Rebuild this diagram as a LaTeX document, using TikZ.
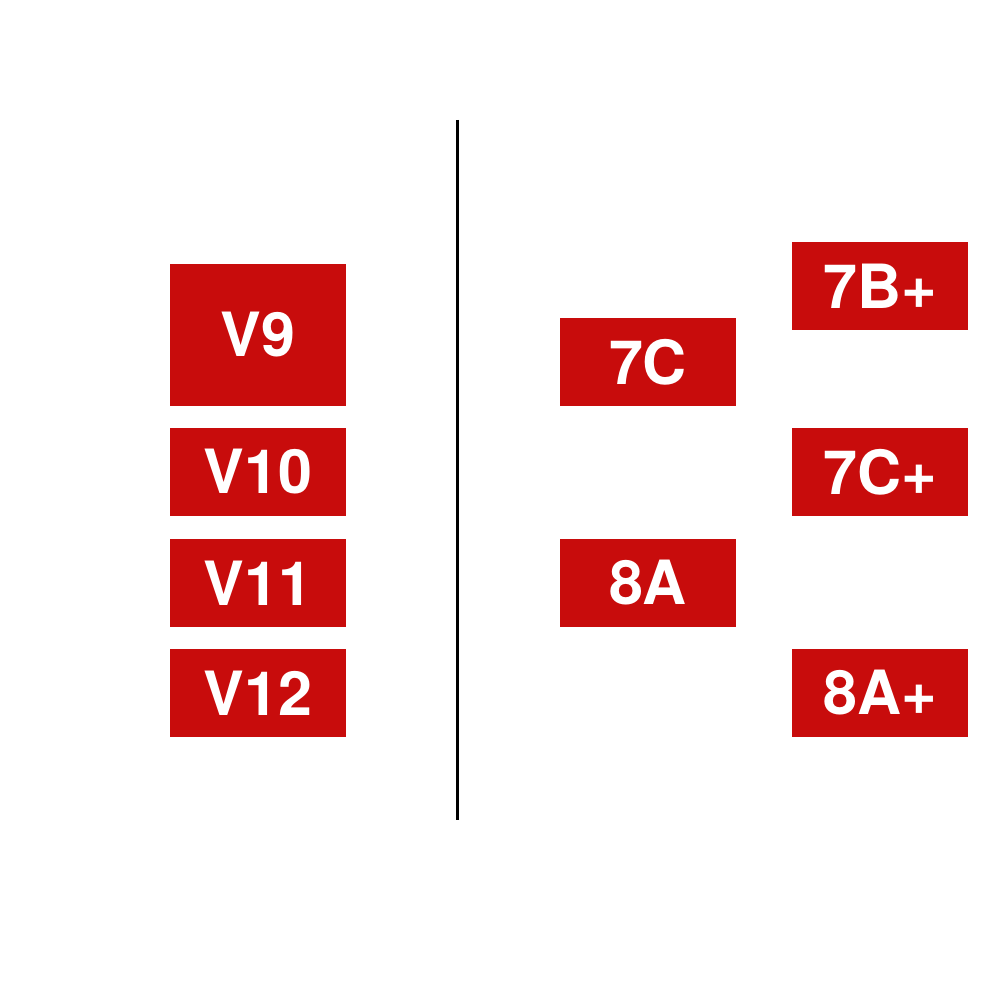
\documentclass[tikz,border=0pt]{standalone}
\usepackage{fontspec}
\setmainfont{TeX Gyre Heros}
\definecolor{boxred}{HTML}{C80C0C}
\begin{document}
\begin{tikzpicture}[x=1pt,y=-1pt,
  gbox/.style={fill=boxred,text=white,inner sep=0pt,font=\fontsize{61}{61}\selectfont\bfseries}]
\useasboundingbox (0,0) rectangle (1000,1000);
\fill[white] (0,0) rectangle (1000,1000);
\coordinate (ltop) at (457,120);
\coordinate (lbot) at (457,820);
\draw[line width=3pt] (ltop) -- (lbot);
\newcommand{\gbx}[6]{%
  \fill[boxred] (#2,#3) rectangle (#4,#5);
  \node[gbox,fill=none] (#1) at ({(#2+#4)/2},{(#3+#5)/2}) {#6};}
\gbx{v9}{170}{264}{346}{406}{V9}
\gbx{v10}{170}{428}{346}{516}{V10}
\gbx{v11}{170}{539}{346}{627}{V11}
\gbx{v12}{170}{649}{346}{737}{V12}
\gbx{c7}{560}{318}{736}{406}{7C}
\gbx{a8}{560}{539}{736}{627}{8A}
\gbx{bp7}{792}{242}{968}{330}{7B+}
\gbx{cp7}{792}{428}{968}{516}{7C+}
\gbx{ap8}{792}{649}{968}{737}{8A+}
\end{tikzpicture}
\end{document}
